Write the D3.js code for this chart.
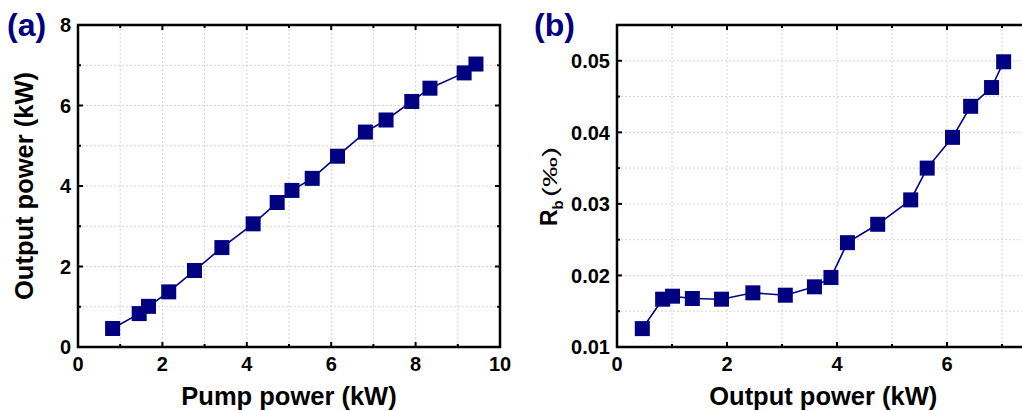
<!DOCTYPE html>
<html>
<head>
<meta charset="utf-8">
<script src="https://cdn.jsdelivr.net/npm/d3@7"></script>
<style>
  html, body { margin: 0; padding: 0; background: #fff; }
  svg { display: block; }
  text { font-family: "Liberation Sans", Arial, sans-serif; }
</style>
</head>
<body>
<svg id="chart" width="1022" height="411"></svg>
<script>
// Pump power (kW) and output power (kW) for each measurement
const pumpPower   = [0.82, 1.45, 1.67, 2.15, 2.76, 3.41, 4.15, 4.72, 5.07, 5.55, 6.15, 6.81, 7.30, 7.91, 8.34, 9.15, 9.43];
const outputPower = [0.46, 0.83, 1.01, 1.37, 1.90, 2.47, 3.06, 3.59, 3.89, 4.19, 4.74, 5.34, 5.64, 6.10, 6.43, 6.81, 7.03];
// Backward ratio R_b (‰) at each output power
const backRatio   = [0.01257, 0.01668, 0.01710, 0.01678, 0.01668, 0.01757, 0.01724, 0.01841, 0.01972, 0.02458, 0.02715, 0.03056, 0.03500, 0.03930, 0.04364, 0.04626, 0.04986];

// Tick values
const aXMajor = [0, 2, 4, 6, 8, 10], aXMinor = [1, 3, 5, 7, 9];
const aYMajor = [0, 2, 4, 6, 8],     aYMinor = [1, 3, 5, 7];
const bXMajor = [0, 2, 4, 6],        bXMinor = [1, 3, 5, 7];
const bYMajor = [0.01, 0.02, 0.03, 0.04, 0.05], bYMinor = [0.015, 0.025, 0.035, 0.045, 0.055];

const navy = "#000080";
const svg = d3.select("#chart");

function panel(opt) {
  const g = svg.append("g");
  const x = d3.scaleLinear().domain(opt.xDomain).range([opt.left, opt.right]);
  const y = d3.scaleLinear().domain(opt.yDomain).range([opt.bottom, opt.top]);

  // dotted grid at majors and minors
  const gx = opt.xMajor.concat(opt.xMinor).filter(v => v > opt.xDomain[0] && v < opt.xDomain[1]);
  const gy = opt.yMajor.concat(opt.yMinor).filter(v => v > opt.yDomain[0] && v < opt.yDomain[1]);
  g.append("g").selectAll("line").data(gx).join("line")
    .attr("x1", d => x(d)).attr("x2", d => x(d))
    .attr("y1", opt.top).attr("y2", opt.bottom)
    .attr("stroke", "#d4d4d4").attr("stroke-width", 1).attr("stroke-dasharray", "2,2");
  g.append("g").selectAll("line").data(gy).join("line")
    .attr("y1", d => y(d)).attr("y2", d => y(d))
    .attr("x1", opt.left).attr("x2", opt.right)
    .attr("stroke", "#d4d4d4").attr("stroke-width", 1).attr("stroke-dasharray", "2,2");

  // inward ticks on all four sides
  const tickG = g.append("g").attr("stroke", "#000").attr("stroke-width", 2);
  const xt = opt.xMajor.map(v => [v, 5]).concat(opt.xMinor.map(v => [v, 3]));
  const yt = opt.yMajor.map(v => [v, 5]).concat(opt.yMinor.map(v => [v, 3]));
  xt.forEach(([v, l]) => {
    tickG.append("line").attr("x1", x(v)).attr("x2", x(v)).attr("y1", opt.bottom).attr("y2", opt.bottom - l);
    tickG.append("line").attr("x1", x(v)).attr("x2", x(v)).attr("y1", opt.top).attr("y2", opt.top + l);
  });
  yt.forEach(([v, l]) => {
    tickG.append("line").attr("y1", y(v)).attr("y2", y(v)).attr("x1", opt.left).attr("x2", opt.left + l);
    tickG.append("line").attr("y1", y(v)).attr("y2", y(v)).attr("x1", opt.right).attr("x2", opt.right - l);
  });

  // frame
  g.append("rect")
    .attr("x", opt.left).attr("y", opt.top)
    .attr("width", opt.right - opt.left).attr("height", opt.bottom - opt.top)
    .attr("fill", "none").attr("stroke", "#000").attr("stroke-width", 2.5);

  // tick labels
  g.append("g").selectAll("text").data(opt.xMajor).join("text")
    .attr("x", d => x(d)).attr("y", opt.bottom + 24)
    .attr("text-anchor", "middle")
    .attr("font-size", 20).attr("font-weight", "bold")
    .text(d => d);
  g.append("g").selectAll("text").data(opt.yMajor).join("text")
    .attr("x", opt.left - 7).attr("y", d => y(d)).attr("dy", "0.36em")
    .attr("text-anchor", "end")
    .attr("font-size", 20).attr("font-weight", "bold")
    .text(opt.yFormat);

  // series line and square markers
  const pts = opt.xs.map((v, i) => [v, opt.ys[i]]);
  g.append("path").datum(pts)
    .attr("fill", "none").attr("stroke", navy).attr("stroke-width", 1.6)
    .attr("d", d3.line().x(d => x(d[0])).y(d => y(d[1])));
  const s = 15;
  g.append("g").selectAll("rect").data(pts).join("rect")
    .attr("x", d => x(d[0]) - s / 2).attr("y", d => y(d[1]) - s / 2)
    .attr("width", s).attr("height", s).attr("fill", navy);

  // x title
  g.append("text")
    .attr("x", (opt.left + opt.right) / 2).attr("y", 405)
    .attr("text-anchor", "middle")
    .attr("font-size", 25.5).attr("font-weight", "bold")
    .text(opt.xTitle);

  // panel letter
  g.append("text")
    .attr("x", opt.letterX).attr("y", 36)
    .attr("font-size", 32).attr("font-weight", "bold").attr("fill", navy)
    .text(opt.letter);

  return { g, x, y };
}

// (a) output power vs pump power
const a = panel({
  left: 78, right: 500, top: 25, bottom: 347,
  xDomain: [0, 10], yDomain: [0, 8],
  xMajor: aXMajor, xMinor: aXMinor, yMajor: aYMajor, yMinor: aYMinor,
  yFormat: d => d,
  xs: pumpPower, ys: outputPower,
  xTitle: "Pump power (kW)", letter: "(a)", letterX: 7
});
a.g.append("text")
  .attr("transform", "translate(33,186) rotate(-90)")
  .attr("text-anchor", "middle")
  .attr("font-size", 25.5).attr("font-weight", "bold")
  .text("Output power (kW)");

// (b) backward ratio vs output power
const b = panel({
  left: 617, right: 1029.5, top: 25, bottom: 347,
  xDomain: [0, 7.5], yDomain: [0.01, 0.055],
  xMajor: bXMajor, xMinor: bXMinor, yMajor: bYMajor, yMinor: bYMinor,
  yFormat: d3.format(".2f"),
  xs: outputPower, ys: backRatio,
  xTitle: "Output power (kW)", letter: "(b)", letterX: 534
});
const rb = b.g.append("text")
  .attr("transform", "translate(557,226) rotate(-90)")
  .attr("text-anchor", "start")
  .attr("font-size", 23).attr("font-weight", "bold");
rb.append("tspan").text("R");
rb.append("tspan").attr("font-size", 15).attr("dy", 6).text("b");
b.g.append("text")
  .attr("transform", "translate(557,197) rotate(-90)")
  .attr("text-anchor", "start")
  .attr("font-size", 21)
  .attr("textLength", 50).attr("lengthAdjust", "spacingAndGlyphs")
  .text("(‰)");
</script>
</body>
</html>
